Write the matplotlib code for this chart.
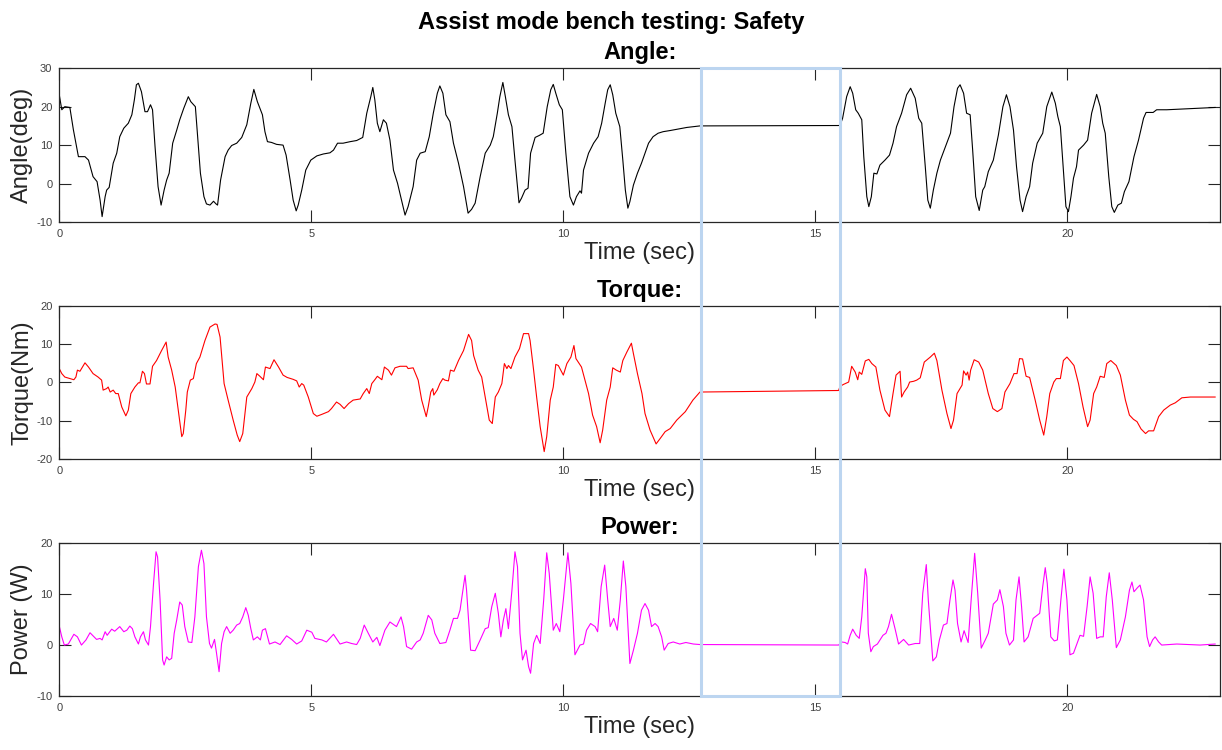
import matplotlib
matplotlib.use("Agg")
import matplotlib.pyplot as plt
from matplotlib.patches import Rectangle

plt.rcParams['font.family'] = ['Liberation Sans', 'DejaVu Sans']
plt.rcParams['axes.unicode_minus'] = False

# ---- data ----
angle_t = [0, 0.05, 0.11, 0.21, 0.28, 0.38, 0.51, 0.58, 0.67, 0.75, 0.81, 0.85, 0.91, 0.94, 0.99,
           1.07, 1.14, 1.20, 1.28, 1.37, 1.44, 1.49, 1.53, 1.57, 1.63, 1.70, 1.75, 1.81, 1.85, 1.90,
           1.96, 2.02, 2.08, 2.13, 2.18, 2.25, 2.33, 2.39, 2.47, 2.56, 2.61, 2.66, 2.70, 2.74, 2.80,
           2.87, 2.92, 2.99, 3.06, 3.11, 3.14, 3.20, 3.29, 3.35, 3.42, 3.52, 3.62, 3.72, 3.80, 3.86,
           3.93, 3.98, 4.03, 4.08, 4.13, 4.21, 4.31, 4.44, 4.50, 4.58, 4.64, 4.70, 4.74, 4.81, 4.89,
           4.99, 5.11, 5.24, 5.37, 5.44, 5.52, 5.63, 5.77, 5.90, 6.02, 6.10, 6.18, 6.22, 6.26, 6.31,
           6.36, 6.43, 6.49, 6.56, 6.63, 6.71, 6.79, 6.86, 6.92, 7.02, 7.09, 7.16, 7.26, 7.34, 7.42,
           7.50, 7.55, 7.61, 7.67, 7.75, 7.82, 7.92, 8.02, 8.11, 8.18, 8.25, 8.35, 8.45, 8.55, 8.61,
           8.69, 8.74, 8.80, 8.85, 8.91, 8.98, 9.04, 9.12, 9.17, 9.24, 9.30, 9.35, 9.44, 9.52, 9.60,
           9.68, 9.75, 9.80, 9.85, 9.92, 9.98, 10.05, 10.13, 10.20, 10.26, 10.33, 10.36, 10.40, 10.50,
           10.60, 10.69, 10.76, 10.83, 10.88, 10.93, 10.98, 11.04, 11.12, 11.18, 11.23, 11.28, 11.32,
           11.39, 11.47, 11.55, 11.62, 11.69, 11.78, 11.88, 11.98, 12.12, 12.28, 12.45, 12.71, 15.46,
           15.49, 15.54, 15.62, 15.69, 15.74, 15.80, 15.85, 15.92, 15.96, 16.02, 16.06, 16.11, 16.16,
           16.22, 16.28, 16.38, 16.47, 16.54, 16.61, 16.71, 16.81, 16.89, 16.98, 17.05, 17.11, 17.18,
           17.23, 17.28, 17.34, 17.41, 17.48, 17.58, 17.68, 17.75, 17.82, 17.87, 17.94, 18.00, 18.07,
           18.12, 18.18, 18.25, 18.32, 18.36, 18.43, 18.53, 18.63, 18.72, 18.79, 18.86, 18.93, 18.99,
           19.06, 19.11, 19.18, 19.25, 19.31, 19.40, 19.51, 19.59, 19.69, 19.76, 19.81, 19.86, 19.91,
           19.97, 20.02, 20.07, 20.12, 20.18, 20.22, 20.32, 20.40, 20.48, 20.58, 20.65, 20.70, 20.75,
           20.82, 20.88, 20.93, 21.00, 21.07, 21.13, 21.22, 21.32, 21.41, 21.51, 21.56, 21.70, 21.77,
           21.97, 22.30, 22.63, 22.93]
angle_v = [23.1, 19.2, 20.0, 19.8, 14.0, 7.0, 7.0, 6.1, 1.8, 0.5, -4.3, -8.6, -3.4, -1.7, -1.0,
           5.3, 7.9, 12.2, 14.4, 15.7, 17.9, 21.8, 25.7, 26.1, 23.9, 18.7, 18.7, 20.5, 19.2, 9.6,
           -0.8, -5.6, -1.7, 0.9, 2.7, 10.5, 13.9, 16.6, 19.6, 22.6, 21.3, 20.6, 20.0, 13.1, 2.7,
           -3.4, -5.3, -5.6, -4.6, -5.3, -5.6, 0.9, 7.0, 8.7, 9.9, 10.5, 12.0, 15.3, 20.9, 24.5,
           21.3, 19.6, 17.9, 13.5, 10.9, 10.7, 10.2, 10.0, 7.4, 0.9, -4.3, -7.1, -5.6, -1.7, 3.5,
           6.1, 7.2, 7.7, 8.0, 8.7, 10.5, 10.5, 10.9, 11.2, 12.0, 18.3, 22.6, 25.0, 21.8, 15.7,
           13.5, 16.6, 15.7, 11.3, 3.5, 0.1, -4.3, -8.2, -6.0, -0.8, 6.1, 7.9, 8.3, 12.2, 18.3,
           23.5, 25.4, 23.5, 17.9, 16.1, 10.5, 5.3, -0.8, -7.7, -6.7, -5.1, 1.8, 7.9, 10.0, 12.2,
           18.3, 22.6, 26.3, 22.6, 17.9, 14.8, 6.1, -5.0, -3.8, -1.7, -1.2, 7.9, 12.0, 12.5, 13.1,
           20.0, 24.4, 25.8, 23.5, 20.5, 19.2, 7.9, -3.4, -5.6, -3.4, -1.9, -2.5, 3.5, 7.9,
           10.5, 12.2, 15.7, 20.9, 24.4, 25.7, 23.1, 18.3, 14.8, 6.1, -1.7, -6.4, -4.7,
           -0.4, 2.7, 5.3, 7.9, 10.5, 12.2, 13.1, 13.5, 13.8, 14.2, 14.6, 15.0, 15.1,
           15.2, 17.0, 22.6, 25.2, 23.5, 19.2, 18.3, 16.6, 7.0, -3.4, -6.0, -3.4, 2.7,
           2.5, 4.8, 6.1, 7.4, 10.5, 14.8, 18.3, 23.1, 24.8, 22.2, 17.0, 15.7, 4.4,
           -4.3, -6.4, -1.7, 2.7, 6.1, 9.6, 13.1, 20.0, 24.8, 25.7, 23.5, 18.3, 17.9,
           8.7, -3.4, -7.0, -1.7, -0.8, 3.1, 6.1, 12.6, 20.0, 23.1, 20.0, 13.9, 4.4,
           -4.3, -7.3, -3.4, -0.8, 5.3, 10.5, 13.1, 20.0, 23.8, 20.9, 17.4, 14.8, 5.3,
           -6.0, -7.3, -3.4, 1.4, 4.4, 8.7, 10.0, 11.3, 18.3, 23.2, 20.0, 15.7, 13.1,
           1.8, -6.0, -7.5, -5.6, -5.1, -2.1, 0.5, 7.0, 11.3, 17.0, 18.5, 18.5, 19.2,
           19.2, 19.4, 19.6, 19.8]

torque_t = [0, 0.05, 0.11, 0.21, 0.29, 0.33, 0.36, 0.41, 0.51, 0.58, 0.67, 0.77, 0.84, 0.87, 0.94,
            0.97, 1.01, 1.07, 1.12, 1.17, 1.24, 1.32, 1.37, 1.42, 1.50, 1.57, 1.60, 1.65, 1.69, 1.73,
            1.80, 1.85, 1.93, 2.03, 2.12, 2.16, 2.23, 2.30, 2.36, 2.43, 2.46, 2.51, 2.54, 2.60, 2.66,
            2.72, 2.79, 2.89, 2.99, 3.09, 3.13, 3.19, 3.27, 3.35, 3.45, 3.53, 3.58, 3.64, 3.72, 3.82,
            3.88, 3.92, 3.98, 4.05, 4.09, 4.18, 4.26, 4.35, 4.44, 4.52, 4.64, 4.71, 4.76, 4.81, 4.85,
            4.94, 5.04, 5.11, 5.21, 5.34, 5.40, 5.50, 5.57, 5.65, 5.74, 5.83, 5.97, 6.03, 6.10, 6.15,
            6.20, 6.26, 6.31, 6.40, 6.45, 6.53, 6.59, 6.66, 6.76, 6.89, 6.92, 7.02, 7.08, 7.12, 7.19,
            7.28, 7.32, 7.37, 7.41, 7.43, 7.50, 7.55, 7.61, 7.65, 7.72, 7.76, 7.83, 7.92, 8.02, 8.12,
            8.18, 8.22, 8.31, 8.38, 8.46, 8.53, 8.59, 8.65, 8.71, 8.78, 8.83, 8.88, 8.91, 8.96, 9.04,
            9.13, 9.21, 9.31, 9.34, 9.41, 9.47, 9.54, 9.62, 9.67, 9.74, 9.80, 9.85, 9.90, 10.00, 10.07,
            10.15, 10.21, 10.25, 10.36, 10.43, 10.50, 10.58, 10.66, 10.73, 10.78, 10.86, 10.93, 10.98,
            11.05, 11.13, 11.18, 11.26, 11.35, 11.39, 11.47, 11.56, 11.62, 11.72, 11.84, 11.92, 12.02,
            12.12, 12.25, 12.42, 12.57, 12.71, 15.46, 15.49, 15.56, 15.66, 15.72, 15.79, 15.84, 15.87,
            15.92, 15.99, 16.06, 16.12, 16.20, 16.28, 16.38, 16.47, 16.54, 16.60, 16.68, 16.71, 16.76,
            16.83, 16.87, 16.95, 17.01, 17.08, 17.16, 17.28, 17.36, 17.41, 17.51, 17.61, 17.69, 17.74,
            17.81, 17.91, 17.94, 17.99, 18.02, 18.05, 18.08, 18.15, 18.24, 18.32, 18.43, 18.52, 18.61,
            18.70, 18.76, 18.86, 18.94, 19.00, 19.05, 19.11, 19.18, 19.25, 19.36, 19.45, 19.53, 19.59,
            19.65, 19.73, 19.78, 19.86, 19.92, 19.99, 20.05, 20.13, 20.22, 20.31, 20.40, 20.45, 20.52,
            20.58, 20.65, 20.73, 20.78, 20.86, 20.97, 21.05, 21.15, 21.23, 21.31, 21.38, 21.46, 21.55,
            21.61, 21.71, 21.81, 21.91, 22.04, 22.14, 22.27, 22.44, 22.93]
torque_v = [3.6, 2.3, 1.4, 1.0, 0.7, 1.4, 3.2, 2.9, 5.1, 4.0, 2.3, 1.4, 0.6, -2.0, -1.6,
            -1.2, -2.5, -2.0, -2.9, -2.9, -6.4, -8.7, -7.2, -2.9, -1.2, -0.1, -0.1, 2.9, 2.3, -0.4,
            -0.4, 4.2, 5.7, 8.3, 10.5, 6.6, 3.2, -1.2, -7.2, -14.1, -13.3, -7.2, -2.5, 0.6, 1.0,
            4.9, 6.6, 10.9, 14.4, 15.2, 15.1, 11.8, -0.3, -4.6, -9.8, -13.7, -15.4, -13.3, -3.8, -1.6,
            0.1, 2.3, 1.6, 0.7, 4.0, 3.6, 5.9, 4.0, 1.9, 1.3, 0.8, 0.4, -1.2, -0.3, -0.7,
            -3.8, -8.1, -8.8, -8.3, -7.6, -6.8, -5.1, -5.7, -6.8, -5.5, -4.6, -4.3, -2.9, -1.6, -2.9,
            -0.3, 0.7, 1.6, 0.7, 4.0, 3.2, 1.9, 3.8, 4.2, 4.2, 3.6, 3.8, 1.9, 0.6, -4.6,
            -8.9, -6.3, -2.5, -1.6, -3.3, -1.9, -0.3, 1.0, 0.6, 0.4, 3.2, 2.9, 5.7, 8.3, 12.5,
            10.9, 7.0, 3.2, 1.4, -4.6, -9.8, -10.7, -3.8, -2.5, -0.3, 4.9, 3.6, 4.4, 3.6, 6.6,
            8.8, 12.7, 12.7, 10.9, 3.2, -3.8, -11.5, -18.0, -14.1, -4.6, -1.2, 4.7, 4.4, 1.9, 4.9,
            6.6, 9.6, 6.2, 4.0, 0.6, -2.9, -8.5, -11.5, -15.7, -12.4, -4.6, -1.2, 3.8,
            3.2, 2.7, 5.7, 7.9, 10.2, 7.5, 2.3, -2.9, -8.1, -12.4, -16.0, -14.6, -12.8,
            -12.0, -9.8, -7.6, -4.6, -2.5, -2.1, -1.0, -0.5, 0.1, 4.2, 2.7, 0.7, 2.7,
            2.1, 5.6, 6.0, 4.9, 4.0, -2.0, -7.2, -8.9, -2.9, 1.9, 2.9, -3.8, -2.5,
            -1.2, 0.1, 0.3, 0.6, 1.2, 5.3, 6.6, 7.6, 5.7, -2.0, -8.1, -12.0, -9.8,
            -2.9, -0.7, 3.0, 1.9, 2.7, 0.6, 3.2, 5.9, 5.3, 3.2, -2.9, -6.8, -7.6,
            -6.8, -2.5, -0.3, 2.3, 2.3, 6.2, 6.1, 1.6, 1.3, -4.6, -9.8, -13.7, -8.9,
            -2.9, 0.1, 1.0, 1.0, 5.7, 6.6, 5.7, 4.4, -0.3, -6.4, -11.5, -9.8, -2.9,
            -1.2, 1.6, 1.3, 4.9, 5.7, 4.4, 1.9, -4.6, -8.5, -9.6, -10.2, -12.1, -13.3,
            -12.6, -12.6, -8.9, -7.2, -5.9, -5.3, -4.0, -3.8, -3.8]

power_t = [0, 0.05, 0.10, 0.18, 0.29, 0.36, 0.44, 0.53, 0.61, 0.69, 0.74, 0.81, 0.85, 0.91, 0.95,
           1.04, 1.10, 1.20, 1.28, 1.34, 1.40, 1.45, 1.50, 1.57, 1.61, 1.67, 1.71, 1.77, 1.81, 1.87,
           1.92, 1.95, 2.00, 2.05, 2.08, 2.13, 2.18, 2.23, 2.28, 2.33, 2.39, 2.44, 2.49, 2.56, 2.63,
           2.69, 2.76, 2.82, 2.87, 2.92, 2.98, 3.02, 3.08, 3.12, 3.17, 3.22, 3.27, 3.32, 3.39, 3.45,
           3.52, 3.58, 3.64, 3.70, 3.75, 3.80, 3.85, 3.93, 3.99, 4.03, 4.09, 4.17, 4.28, 4.38, 4.51,
           4.61, 4.71, 4.81, 4.91, 5.01, 5.07, 5.21, 5.30, 5.44, 5.57, 5.70, 5.80, 5.90, 5.97, 6.05,
           6.13, 6.22, 6.30, 6.36, 6.46, 6.56, 6.69, 6.78, 6.83, 6.89, 6.99, 7.09, 7.16, 7.22, 7.32,
           7.39, 7.45, 7.55, 7.67, 7.75, 7.82, 7.90, 7.95, 8.05, 8.08, 8.16, 8.25, 8.35, 8.45, 8.51,
           8.58, 8.65, 8.71, 8.76, 8.81, 8.86, 8.91, 8.98, 9.04, 9.09, 9.14, 9.19, 9.26, 9.31, 9.35,
           9.41, 9.47, 9.54, 9.61, 9.67, 9.72, 9.80, 9.86, 9.93, 10.00, 10.09, 10.15, 10.23, 10.33,
           10.40, 10.46, 10.54, 10.63, 10.68, 10.75, 10.82, 10.88, 10.93, 11.00, 11.07, 11.13, 11.19,
           11.24, 11.32, 11.39, 11.47, 11.55, 11.62, 11.69, 11.75, 11.82, 11.88, 11.95, 12.00, 12.08,
           12.18, 12.31, 12.43, 12.58, 12.71, 15.46, 15.52, 15.59, 15.64, 15.69, 15.74, 15.81, 15.87,
           15.92, 15.99, 16.02, 16.05, 16.10, 16.15, 16.23, 16.34, 16.40, 16.45, 16.51, 16.58, 16.65,
           16.75, 16.85, 16.98, 17.07, 17.13, 17.20, 17.24, 17.33, 17.40, 17.46, 17.54, 17.61, 17.67,
           17.73, 17.77, 17.82, 17.89, 17.95, 18.03, 18.09, 18.16, 18.22, 18.29, 18.37, 18.43, 18.53,
           18.61, 18.66, 18.73, 18.78, 18.85, 18.93, 18.98, 19.04, 19.09, 19.14, 19.22, 19.32, 19.40,
           19.45, 19.51, 19.56, 19.60, 19.67, 19.74, 19.80, 19.87, 19.93, 19.99, 20.05, 20.12, 20.19,
           20.25, 20.32, 20.39, 20.45, 20.51, 20.58, 20.65, 20.71, 20.77, 20.83, 20.89, 20.97, 21.05,
           21.15, 21.23, 21.28, 21.32, 21.39, 21.44, 21.51, 21.58, 21.63, 21.69, 21.74, 21.81, 21.87,
           22.17, 22.63, 22.93]
power_v = [3.7, 1.6, 0.0, 0.2, 2.1, 1.6, 0.0, 1.0, 2.4, 1.6, 1.1, 1.3, 1.0, 2.6, 1.9,
           3.1, 2.7, 3.6, 2.6, 2.9, 3.7, 3.2, 1.6, 0.2, 1.6, 2.6, 1.0, 0.0, 3.6, 12.0,
           18.2, 17.2, 8.8, -2.9, -3.9, -2.3, -2.9, -2.6, 2.3, 4.9, 8.4, 7.8, 3.6, 0.6, 0.5,
           5.5, 15.3, 18.5, 15.9, 5.5, 0.3, -0.6, 1.1, -1.6, -5.2, 0.3, 2.6, 3.6, 2.3, 2.9,
           3.9, 4.2, 5.5, 7.3, 5.8, 3.2, 1.0, 1.6, 1.0, 2.9, 3.2, 0.2, 0.6, 0.1, 1.8,
           1.1, 0.2, 0.8, 2.9, 2.5, 1.3, 1.0, 0.6, 2.1, 0.2, 0.6, 0.3, 0.1, 1.3, 3.9,
           2.3, 0.6, 1.5, -0.1, 2.9, 4.5, 3.6, 5.5, 3.6, -0.3, -0.8, 0.6, 1.0, 2.3, 5.8,
           4.9, 2.3, 0.3, 0.5, 2.9, 5.2, 5.2, 6.8, 13.6, 10.7, -1.0, -1.1, 1.0, 3.2, 3.4,
           7.5, 10.1, 6.2, 1.6, 4.9, 7.1, 3.2, 10.7, 18.2, 15.3, 2.3, -2.9, -1.0, -4.2, -5.5,
           0.3, 1.9, 0.3, 8.8, 18.0, 14.0, 2.9, 4.2, 2.6, 8.8, 18.0, 12.0, -1.9, 0.0,
           0.2, 2.9, 4.2, 3.6, 2.6, 11.4, 15.6, 8.8, 3.6, 5.2, 2.9, 8.8, 16.4,
           11.4, -3.6, -1.0, 2.3, 6.8, 8.1, 6.8, 3.6, 4.2, 3.6, 1.6, -1.0, 0.3,
           0.6, 0.2, 0.5, 0.2, 0.1, 0.0, 0.6, 0.5, 0.2, 1.9, 3.1, 1.9, 1.3,
           5.5, 14.9, 13.3, 2.3, -1.3, -0.3, 0.2, 1.9, 2.3, 3.6, 6.0, 3.2, 0.2,
           1.1, 0.0, 0.3, 0.3, 10.1, 15.7, 8.8, -3.1, -2.3, 1.0, 3.9, 4.2, 8.8,
           12.7, 10.7, 4.2, 0.6, 2.8, 0.5, 8.8, 17.9, 10.1, -0.6, 1.0, 2.3, 8.0,
           8.8, 10.8, 7.5, 2.3, 0.0, 1.0, 8.8, 13.3, 7.5, 0.6, 1.6, 5.2, 5.8,
           6.2, 11.4, 15.1, 12.0, 1.6, 0.8, 1.0, 8.8, 14.8, 8.8, -1.9, -1.6, 0.3,
           1.9, 1.7, 7.5, 13.3, 10.1, 1.3, 1.6, 1.6, 9.4, 14.1, 8.8, -0.5, 1.0,
           5.5, 10.7, 12.3, 10.4, 11.2, 11.7, 8.8, 1.6, -0.3, 1.0, 1.6, 0.6, 0.0,
           0.2, 0.0, 0.2]

box_t = [12.73, 15.49]   # highlighted interval

panels = [
    ("Angle:", "Angle(deg)", angle_t, angle_v, "k", (-10, 30), [-10, 0, 10, 20, 30]),
    ("Torque:", "Torque(Nm)", torque_t, torque_v, "#FF0000", (-20, 20), [-20, -10, 0, 10, 20]),
    ("Power:", "Power (W)", power_t, power_v, "#FF00FF", (-10, 20), [-10, 0, 10, 20]),
]

fig = plt.figure(figsize=(12.22, 7.5), dpi=100)
fig.suptitle("Assist mode bench testing: Safety", fontsize=17, fontweight="bold",
             y=0.970, va="center")

bottoms = [0.704, 0.3876, 0.0716]
axes = []
for (title, ylab, t, v, col, ylim, yt), b in zip(panels, bottoms):
    ax = fig.add_axes([0.0485, b, 0.9500, 0.205])
    ax.plot(t, v, color=col, lw=0.8, solid_joinstyle="round")
    ax.set_xlim(0, 23.03)
    ax.set_ylim(*ylim)
    ax.set_yticks(yt)
    ax.set_xticks([0, 5, 10, 15, 20])
    ax.tick_params(direction="in", length=8.3, width=0.8, top=True, right=True,
                   labelsize=8, labelcolor="#404040", color="#262626", pad=5)
    for s in ax.spines.values():
        s.set_linewidth(0.9)
        s.set_color("#262626")
    ax.set_title(title, fontsize=17, fontweight="bold", pad=6.5)
    ax.set_ylabel(ylab, fontsize=17, color="#262626", labelpad=2)
    ax.set_xlabel("Time (sec)", fontsize=17, color="#262626", labelpad=2)
    axes.append(ax)

# light blue box spanning all three panels
inv = fig.transFigure.inverted()
x0, y1 = inv.transform(axes[0].transData.transform((box_t[0], axes[0].get_ylim()[1])))
x1, y0 = inv.transform(axes[2].transData.transform((box_t[1], axes[2].get_ylim()[0])))
fig.add_artist(Rectangle((x0, y0), x1 - x0, y1 - y0, transform=fig.transFigure,
                         fill=False, ec="#BCD5F0", lw=2.2, zorder=10))

plt.savefig("out.png", dpi=100)
